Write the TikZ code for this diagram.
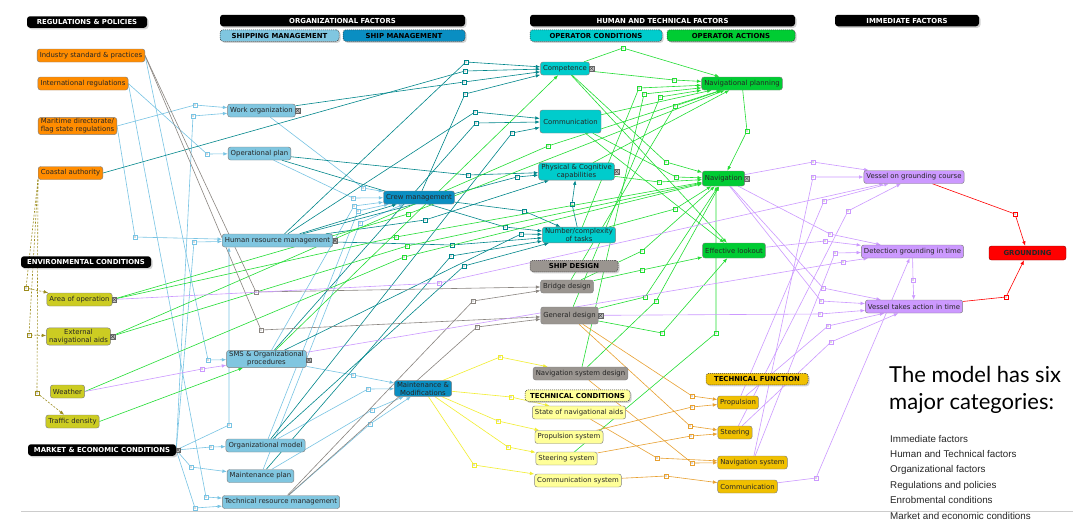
\documentclass[tikz,border=0pt]{standalone}
\usepackage{fontspec}
\setmainfont{DejaVu Sans}
\newfontfamily\latofont{Lato}
\newfontfamily\arialfont{Liberation Sans}
\usetikzlibrary{arrows.meta,shadows}
\pgfdeclarelayer{background}
\pgfsetlayers{background,main}
\definecolor{cOr}{HTML}{FF8C00}
\definecolor{cLb}{HTML}{80C6E0}
\definecolor{cDb}{HTML}{0A8EC2}
\definecolor{cCy}{HTML}{00CCCC}
\definecolor{cGn}{HTML}{00CC33}
\definecolor{cGy}{HTML}{9A9590}
\definecolor{cOl}{HTML}{CCCC22}
\definecolor{cLy}{HTML}{FFFF99}
\definecolor{cGo}{HTML}{F0C000}
\definecolor{cPp}{HTML}{CC99FF}
\definecolor{cRd}{HTML}{FF0000}
\definecolor{eLb}{HTML}{78C4E4}
\definecolor{eTe}{HTML}{00868B}
\definecolor{eGn}{HTML}{22DD33}
\definecolor{eGy}{HTML}{8A8580}
\definecolor{ePp}{HTML}{CC99FF}
\definecolor{eYl}{HTML}{F2EE30}
\definecolor{eOr}{HTML}{E8A030}
\definecolor{eRd}{HTML}{FF0000}
\definecolor{eOl}{HTML}{9C8C1C}
\tikzset{
  nd/.style={draw=black!50, line width=0.45pt, rounded corners=2.5pt, inner xsep=2.6pt, inner ysep=1.2pt, minimum height=13pt, font=\fontsize{6.9}{8}\selectfont, align=center, text=black!85},
  orn/.style={nd, fill=cOr},
  lbn/.style={nd, fill=cLb},
  dbn/.style={nd, fill=cDb},
  cyn/.style={nd, fill=cCy},
  gnn/.style={nd, fill=cGn},
  gyn/.style={nd, fill=cGy},
  oln/.style={nd, fill=cOl},
  lyn/.style={nd, fill=cLy},
  gon/.style={nd, fill=cGo},
  ppn/.style={nd, fill=cPp},
  rdn/.style={nd, fill=cRd, draw=red!60!black, font=\bfseries\fontsize{6.9}{8}\selectfont, minimum width=77pt, minimum height=14pt},
  hdr/.style={fill=black, text=white, rounded corners=3pt, minimum height=11.5pt, inner sep=1pt, font=\bfseries\fontsize{6.9}{8}\selectfont, drop shadow={shadow xshift=1.5pt, shadow yshift=-1.5pt, fill=black!35}},
  sub/.style={hdr, text=black, draw=black!80, dashed, dash pattern=on 1pt off 1pt, line width=0.5pt},
  ln/.style={line width=0.6pt, -{Latex[length=4.5pt,width=3.5pt]}},
  elb/.style={ln, color=eLb},
  ete/.style={ln, color=eTe},
  egn/.style={ln, color=eGn},
  egy/.style={ln, color=eGy},
  epp/.style={ln, color=ePp},
  eyl/.style={ln, color=eYl},
  eor/.style={ln, color=eOr},
  erd/.style={ln, color=eRd},
  eol/.style={ln, color=eOl, dash pattern=on 2pt off 1.5pt},
  mk/.style={draw, solid, fill=white, minimum size=4pt, inner sep=0pt, line width=0.5pt, path picture={\fill[black!60] (path picture bounding box.center) circle[radius=0.6pt];}},
  port/.style={draw=black!60, fill=black!25, minimum size=4.5pt, inner sep=0pt, line width=0.4pt, path picture={\draw[black!70,line width=0.4pt] (path picture bounding box.south west)--(path picture bounding box.north east) (path picture bounding box.north west)--(path picture bounding box.south east);}},
}
\newcounter{mkc}
\newcommand{\cn}[4]{\stepcounter{mkc}\draw[#1] (#2) -- (#3) node[mk] (mk\arabic{mkc}) {} -- (#4);}
\begin{document}
\begin{tikzpicture}[x=1pt,y=-1pt]
\useasboundingbox (0,0) rectangle (1073,531);
% headers
\node[hdr, minimum width=120pt] (hreg) at (87,22) {REGULATIONS \& POLICIES};
\node[hdr, minimum width=245pt] (horg) at (342.5,20.5) {ORGANIZATIONAL FACTORS};
\node[sub, fill=cLb, minimum width=119pt] (hshp) at (279.5,35.5) {SHIPPING MANAGEMENT};
\node[sub, fill=cDb, minimum width=122pt] (hsm) at (404,35.5) {SHIP MANAGEMENT};
\node[hdr, minimum width=265pt] (hht) at (662.5,20.5) {HUMAN AND TECHNICAL FACTORS};
\node[sub, fill=cCy, minimum width=132pt] (hoc) at (596,35.5) {OPERATOR CONDITIONS};
\node[sub, fill=cGn, minimum width=128pt] (hoa) at (731,35.5) {OPERATOR ACTIONS};
\node[hdr, minimum width=144pt] (him) at (907,20.5) {IMMEDIATE FACTORS};
\node[hdr, minimum width=130pt] (henv) at (86,262) {ENVIRONMENTAL CONDITIONS};
\node[hdr, minimum width=148pt] (hmkt) at (102,450) {MARKET \& ECONOMIC CONDITIONS};
\node[sub, fill=cGy, minimum width=88pt] (hsd) at (574,266) {SHIP DESIGN};
\node[sub, fill=cLy, minimum width=105pt] (htc) at (577.5,395.5) {TECHNICAL CONDITIONS};
\node[sub, fill=cGo, minimum width=102pt] (htf) at (757,379) {TECHNICAL FUNCTION};
% nodes
\node[orn] (ind) at (91,55.5) {Industry standard \& practices};
\node[orn] (intl) at (83,83.5) {International regulations};
\node[orn] (mar) at (77.5,126) {Maritime directorate/\\flag state regulations};
\node[orn] (coast) at (70.5,173) {Coastal authority};
\node[lbn] (wo) at (261.5,110.5) {Work organization};
\node[lbn] (op) at (259.5,153.5) {Operational plan};
\node[lbn] (hrm) at (277.5,240.5) {Human resource management};
\node[lbn] (sms) at (266.5,359) {SMS \& Organizational\\procedures};
\node[lbn] (om) at (265.5,445.5) {Organizational model};
\node[lbn] (mp) at (260.5,476) {Maintenance plan};
\node[lbn] (trm) at (281,502) {Technical resource management};
\node[dbn] (crew) at (419,197.5) {Crew management};
\node[dbn] (mm) at (423,388.5) {Maintenance \&\\Modifications};
\node[cyn] (comp) at (565,68.5) {Competence};
\node[cyn, minimum height=23pt, minimum width=61pt] (commu) at (570.5,121.5) {Communication};
\node[cyn] (phys) at (576.5,171.5) {Physical \& Cognitive\\capabilities};
\node[cyn] (num) at (579,235) {Number/complexity\\of tasks};
\node[gnn] (np) at (742,83.5) {Navigational planning};
\node[gnn, minimum height=15pt] (nav) at (723.5,178.5) {Navigation};
\node[gnn, minimum height=15pt] (look) at (734,250.5) {Effective lookout};
\node[gyn] (bd) at (567,286.5) {Bridge design};
\node[gyn, minimum height=17pt] (gd) at (569.5,315.5) {General design};
\node[gyn] (nsd) at (580.5,373.5) {Navigation system design};
\node[oln] (area) at (79.5,299.5) {Area of operation};
\node[oln] (ext) at (78.5,336.5) {External\\navigational aids};
\node[oln] (weather) at (67.5,391.5) {Weather};
\node[oln] (traffic) at (72.5,421.5) {Traffic density};
\node[lyn] (sna) at (579,412.5) {State of navigational aids};
\node[lyn] (ps) at (569,437) {Propulsion system};
\node[lyn] (ss) at (566.5,458.5) {Steering system};
\node[lyn] (cs) at (578,480.5) {Communication system};
\node[gon] (prop) at (738,402.5) {Propulsion};
\node[gon] (steer) at (735,432.5) {Steering};
\node[gon] (navs) at (752.5,462.5) {Navigation system};
\node[gon] (comm2) at (747.5,486.5) {Communication};
\node[ppn] (vgc) at (914,177) {Vessel on grounding course};
\node[ppn] (dgt) at (912.5,251.5) {Detection grounding in time};
\node[ppn] (vta) at (914,306.5) {Vessel takes action in time};
\node[rdn] (gr) at (1027.5,253) {GROUNDING};
% ports
\node[port] (p1) at ([xshift=2pt]wo.east) {};
\node[port] (p2) at ([xshift=2pt]hrm.east) {};
\node[port] (p3) at ([xshift=2pt]comp.east) {};
\node[port] (p4) at ([xshift=2pt]phys.east) {};
\node[port] (p5) at ([xshift=2pt]nav.east) {};
\node[port] (p6) at ([xshift=2pt]area.east) {};
\node[port] (p7) at ([xshift=2pt]ext.east) {};
\node[port] (p8) at ([xshift=2pt,yshift=-1pt]sms.east) {};
\node[port] (p9) at ([xshift=2pt]hmkt.east) {};
\node[port] (p10) at ([xshift=2pt]gd.east) {};
% text
\node[anchor=base west, font=\latofont\fontsize{22}{26}\selectfont, inner sep=0] (t1) at (889,382) {The model has six};
\node[anchor=base west, font=\latofont\fontsize{22}{26}\selectfont, inner sep=0] (t2) at (889,409) {major categories:};
\begin{scope}[every node/.style={anchor=base west, font=\arialfont\fontsize{9.8}{12}\selectfont, inner sep=0, text=black!85}]
\node (l1) at (890,442) {Immediate factors};
\node (l2) at (890,457.4) {Human and Technical factors};
\node (l3) at (890,472.8) {Organizational factors};
\node (l4) at (890,488.2) {Regulations and policies};
\node (l5) at (890,503.6) {Enrobmental conditions};
\node (l6) at (890,519) {Market and economic conditions};
\end{scope}
\begin{pgfonlayer}{background}
\fill[white] (0,0) rectangle (1073,531);
\draw[black!20, line width=0.8pt] (21,511) -- (1073,511);
% light blue
\cn{elb}{mar.east}{195,105}{wo}
\cn{elb}{hmkt.east}{193,116}{wo}
\cn{elb}{intl.east}{207,154}{op}
\cn{elb}{mar.east}{135,237}{hrm}
\cn{elb}{hmkt.east}{194,242}{hrm}
\cn{elb}{ind.east}{208,360}{sms}
\coordinate (vA) at (229,425);
\draw[elb] (hmkt.east) -- (vA) node[mk] (mkA) {} -- (vA |- hrm.south);
\cn{elb}{hmkt.east}{211,447}{om}
\cn{elb}{hmkt.east}{191,467}{mp}
\cn{elb}{intl.east}{206,497}{trm}
\cn{elb}{hmkt.east}{195,508}{trm}
\cn{elb}{wo}{363,188}{crew}
\cn{elb}{op}{353,198}{crew}
\cn{elb}{sms}{354,206}{crew}
\cn{elb}{om}{358,211}{crew}
\cn{elb}{mp}{360,223}{crew}
\cn{elb}{sms}{353,375}{mm}
\cn{elb}{om}{368,389}{mm}
\cn{elb}{mp}{372,410}{mm}
\cn{elb}{trm}{370,424}{mm}
% teal
\cn{ete}{hrm}{466,62}{comp}
\cn{ete}{coast.east}{465,71}{comp}
\cn{ete}{wo}{464,82}{comp}
\cn{ete}{crew}{465,94}{comp}
\cn{ete}{hrm}{475,112}{commu}
\cn{ete}{sms}{476,123}{commu}
\cn{ete}{om}{512,133}{commu}
\cn{ete}{op}{468,175}{phys}
\cn{ete}{hrm}{517,177}{phys}
\cn{ete}{hrm}{425,220}{phys}
\cn{ete}{crew}{524,211}{num}
\cn{ete}{op}{505,227}{num}
\cn{ete}{sms}{521,234}{num}
\cn{ete}{hrm}{452,245}{num}
\cn{ete}{mp}{451,256}{num}
\cn{ete}{om}{464,266}{num}
\cn{ete}{num}{572,204}{phys}
\draw[ete] (hrm) -- (crew);
% green
\cn{egn}{comp}{623,48}{np}
\cn{egn}{comp}{674,80}{np}
\cn{egn}{num}{639,88}{np}
\cn{egn}{nsd}{644,94}{np}
\cn{egn}{gd}{660,97}{np}
\cn{egn}{bd}{675,106}{np}
\draw[egn] (commu) -- (np);
\draw[egn] (phys) -- (np);
\cn{egn}{comp}{666,162}{nav}
\cn{egn}{commu}{676,177}{nav}
\cn{egn}{phys}{659,182}{nav}
\cn{egn}{num}{675,209}{nav}
\cn{egn}{bd}{642,251}{nav}
\cn{egn}{bd}{642,270}{look}
\cn{egn}{gd}{645,297}{nav}
\cn{egn}{nsd}{656,301}{nav}
\cn{egn}{gd}{662,333}{look}
\draw[egn] (comp) -- (look);
\draw[egn] (commu) -- (look);
\cn{egn}{np}{747,131}{nav}
\coordinate (vB) at (716,333);
\draw[egn] (ss) -- (vB) node[mk] (mkB) {} -- (vB |- nav.south);
\cn{egn}{area.east}{408,214}{np}
\cn{egn}{area.east}{396,237}{nav}
\cn{egn}{ext.east}{548,146}{np}
\cn{egn}{ext.east}{407,246}{nav}
\cn{egn}{weather.east}{404,257}{nav}
\draw[egn] (traffic.east) -- (sms);
\draw[egn] (sms) -- (comp);
% gray
\cn{egy}{ind.east}{256,292}{bd}
\cn{egy}{ind.east}{261,330}{gd}
\cn{egy}{trm}{473,301}{bd}
\cn{egy}{trm}{477,327}{gd}
% purple
\cn{epp}{area.east}{439,283}{vgc}
\cn{epp}{weather.east}{202,369}{sms}
\cn{epp}{sms}{843,262}{dgt}
\cn{epp}{gd}{820,314}{vta}
\cn{epp}{look}{825,241}{dgt}
\cn{epp}{nav}{813,162}{vgc}
\cn{epp}{nav}{830,234}{dgt}
\cn{epp}{nav}{823,288}{vta}
\cn{epp}{nav}{821,301}{vta}
\cn{epp}{prop}{824,201}{vgc}
\cn{epp}{steer}{848,211}{vgc}
\cn{epp}{navs}{813,177}{vgc}
\cn{epp}{navs}{835,253}{dgt}
\cn{epp}{comm2}{816,478}{dgt}
\cn{epp}{prop}{828,326}{vta}
\cn{epp}{steer}{831,342}{vta}
\cn{epp}{dgt}{913,280}{vta}
% red
\cn{erd}{vgc}{1015,214}{gr}
\cn{erd}{vta}{1006,297}{gr}
% yellow
\cn{eyl}{mm}{500,357}{nsd}
\cn{eyl}{mm}{511,397}{sna}
\cn{eyl}{mm}{498,421}{ps}
\cn{eyl}{mm}{508,447}{ss}
\cn{eyl}{mm}{474,465}{cs}
% orange
\cn{eor}{gd}{692,396}{prop}
\cn{eor}{ps}{692,407}{prop}
\cn{eor}{gd}{690,426}{steer}
\cn{eor}{ss}{691,436}{steer}
\cn{eor}{sna}{657,458}{navs}
\cn{eor}{nsd}{692,463}{navs}
\cn{eor}{cs}{666,476}{comm2}
% olive dashed
\cn{eol}{coast.south west}{26,288}{area}
\cn{eol}{coast.south west}{29,335}{ext}
\cn{eol}{coast.south west}{37,393}{traffic}
\end{pgfonlayer}
\end{tikzpicture}
\end{document}
